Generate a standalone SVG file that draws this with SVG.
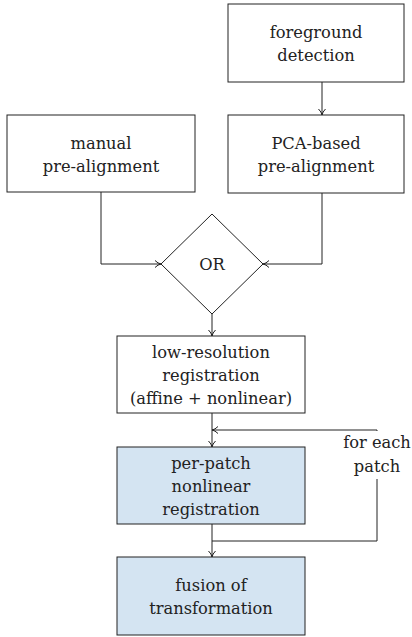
<svg xmlns="http://www.w3.org/2000/svg" width="412" height="637" viewBox="0 0 412 637">
<style>
.box{fill:#fff;stroke:#222;stroke-width:1}
.blue{fill:#d4e4f2;stroke:#222;stroke-width:1}
.t{font-size:16.3px;fill:#222;text-anchor:middle}
.c{fill:none;stroke:#222;stroke-width:1}
</style>
<defs>
<marker id="ah" viewBox="0 0 10 10" refX="9" refY="5" markerWidth="10" markerHeight="10" markerUnits="userSpaceOnUse" orient="auto">
<path d="M3,1.5 Q6,4.5 9,5 Q6,5.5 3,8.5" fill="none" stroke="#222" stroke-width="1"/>
</marker>
</defs>
<g font-family="'DejaVu Serif', 'Liberation Serif', serif">
<g id="connectors">
<path class="c" d="M322,82 V115" marker-end="url(#ah)"/>
<path class="c" d="M101,192 V264 H161" marker-end="url(#ah)"/>
<path class="c" d="M322,193 V264 H263" marker-end="url(#ah)"/>
<path class="c" d="M212,314 V336" marker-end="url(#ah)"/>
<path class="c" d="M212,413 V447" marker-end="url(#ah)"/>
<path class="c" d="M212,524 V557" marker-end="url(#ah)"/>
<path class="c" d="M212,541 H377 V430 H212" marker-end="url(#ah)"/>
<rect x="342" y="431" width="70" height="48" fill="#fff"/>
<text class="t" x="377" y="448">for each</text>
<text class="t" x="377" y="472">patch</text>
</g>
<g id="foreground">
<rect class="box" x="228" y="4" width="176" height="78"/>
<text class="t" x="316" y="38">foreground</text>
<text class="t" x="316" y="61">detection</text>
</g>
<g id="pca">
<rect class="box" x="228" y="115" width="176" height="78"/>
<text class="t" x="316" y="149">PCA-based</text>
<text class="t" x="316" y="172">pre-alignment</text>
</g>
<g id="manual">
<rect class="box" x="7" y="115" width="188" height="77"/>
<text class="t" x="101" y="149">manual</text>
<text class="t" x="101" y="172">pre-alignment</text>
</g>
<g id="or">
<polygon class="box" points="212,214 263,264 212,314 161,264"/>
<text class="t" x="212" y="270">OR</text>
</g>
<g id="lowres">
<rect class="box" x="117" y="336" width="188" height="77"/>
<text class="t" x="211" y="358">low-resolution</text>
<text class="t" x="211" y="381">registration</text>
<text class="t" x="211" y="404">(affine + nonlinear)</text>
</g>
<g id="perpatch">
<rect class="blue" x="117" y="447" width="188" height="77"/>
<text class="t" x="211" y="469">per-patch</text>
<text class="t" x="211" y="492">nonlinear</text>
<text class="t" x="211" y="515">registration</text>
</g>
<g id="fusion">
<rect class="blue" x="117" y="557" width="188" height="78"/>
<text class="t" x="211" y="591">fusion of</text>
<text class="t" x="211" y="614">transformation</text>
</g>
</g>
</svg>
